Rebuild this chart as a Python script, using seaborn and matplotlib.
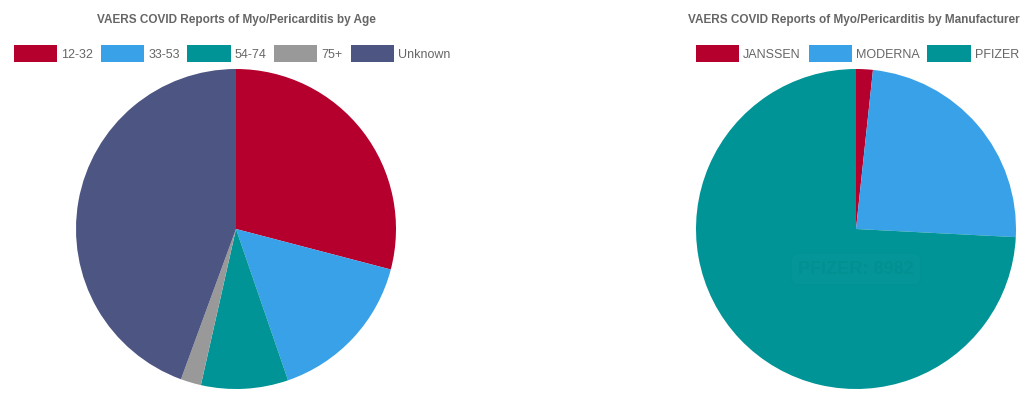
import matplotlib
matplotlib.use("Agg")
import matplotlib.pyplot as plt
import matplotlib.patches as mpatches
import seaborn as sns

# ---- data ----
age_labels = ["12-32", "33-53", "54-74", "75+", "Unknown"]
age_counts = [3520, 1895, 1065, 250, 5377]
age_colors = ["#b5002e", "#38a1e8", "#009496", "#999999", "#4d5582"]

mfr_labels = ["JANSSEN", "MODERNA", "PFIZER"]
mfr_counts = [205, 2920, 8982]
mfr_colors = ["#b5002e", "#38a1e8", "#009496"]

title_age = "VAERS COVID Reports of Myo/Pericarditis by Age"
title_mfr = "VAERS COVID Reports of Myo/Pericarditis by Manufacturer"

sns.set_theme(style="white")
plt.rcParams["font.family"] = ["Liberation Sans", "DejaVu Sans"]

W, H = 1033, 399
fig = plt.figure(figsize=(W / 100, H / 100), dpi=100)
fig.patch.set_facecolor("white")

def px_axes(cx, cy, r):
    return fig.add_axes([(cx - r) / W, (H - cy - r) / H, 2 * r / W, 2 * r / H])

def draw_pie(ax, counts, colors):
    ax.pie(counts, colors=sns.color_palette(colors), startangle=90, counterclock=False,
           radius=1.0, wedgeprops=dict(linewidth=0))
    ax.set_xlim(-1, 1)
    ax.set_ylim(-1, 1)
    ax.set_aspect("equal")
    ax.axis("off")

ax1 = px_axes(236, 229, 160)
draw_pie(ax1, age_counts, age_colors)
ax2 = px_axes(856, 229, 160)
draw_pie(ax2, mfr_counts, mfr_colors)

# faint hover tooltip
ax2.text(0, -0.25, "PFIZER: 8982", ha="center", va="center", fontsize=13,
         fontweight="bold", color=(0, 0, 0, 0.03),
         bbox=dict(boxstyle="round,pad=0.4", fc=(1, 1, 1, 0.015), ec=(0, 0, 0, 0.02)))

# titles
fig.text(236 / W, 1 - 20 / H, title_age, ha="center", va="center",
         fontsize=8.5, fontweight="bold", color="#666666")
fig.text(854 / W, 1 - 20 / H, title_mfr, ha="center", va="center",
         fontsize=8.5, fontweight="bold", color="#666666")

def make_legend(labels, colors, x_left):
    handles = [mpatches.Patch(facecolor=c, edgecolor="none", label=l)
               for l, c in zip(labels, colors)]
    leg = fig.legend(handles=handles, loc="center left",
                     bbox_to_anchor=(x_left / W, 1 - 53.5 / H), ncol=len(labels),
                     frameon=False, fontsize=9.0, handlelength=3.45, handleheight=1.6,
                     handletextpad=0.33, columnspacing=0.62, borderpad=0, borderaxespad=0)
    for t in leg.get_texts():
        t.set_color("#666666")
    return leg

make_legend(age_labels, age_colors, 14)
make_legend(mfr_labels, mfr_colors, 696)

fig.savefig("out.png", dpi=100, facecolor="white")
